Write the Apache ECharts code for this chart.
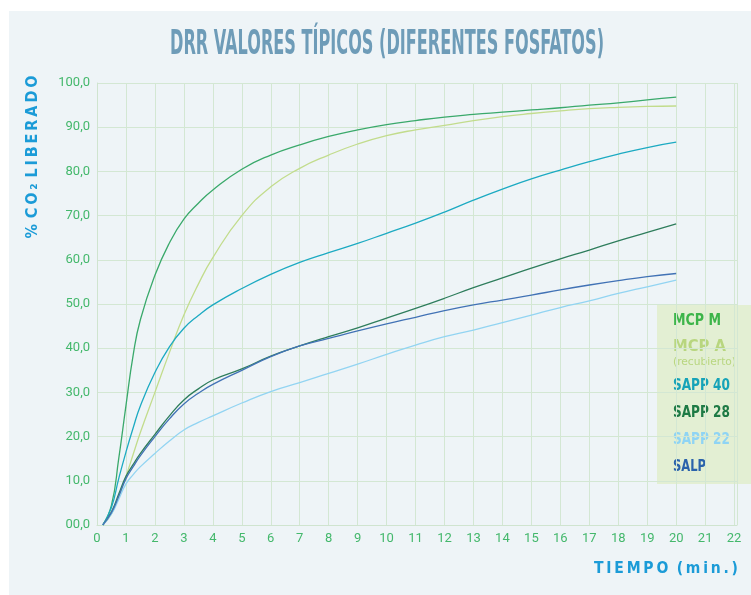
<!DOCTYPE html>
<html>
<head>
<meta charset="utf-8">
<script src="https://cdn.jsdelivr.net/npm/echarts@6/dist/echarts.min.js"></script>
<style>
  html, body { margin: 0; padding: 0; background: #fff; }
  #chart { width: 751px; height: 595px; }
</style>
</head>
<body>
<div id="chart"></div>
<script>
  // tiempo (min.) comun para todas las curvas
  var tiempo = [0.2, 0.5, 0.75, 1, 1.25, 1.5, 2, 2.5, 3, 3.5, 4, 5, 6, 7, 8, 9, 10, 11, 12, 13, 14, 15, 16, 17, 18, 19, 20];

  // % CO2 liberado
  var mcpM   = [0, 4.5, 15, 27, 38.5, 46.5, 56.5, 63.8, 69.2, 72.8, 75.8, 80.5, 83.7, 86, 87.9, 89.4, 90.6, 91.5, 92.3, 92.9, 93.4, 93.9, 94.4, 95, 95.5, 96.2, 96.8];
  var mcpA   = [0, 2.5, 6.5, 11, 16, 21, 30, 39, 47.5, 54.5, 60.5, 70, 76.5, 80.7, 83.7, 86.2, 88.1, 89.4, 90.4, 91.5, 92.4, 93.1, 93.7, 94.2, 94.5, 94.7, 94.8];
  var sapp40 = [0, 4, 10.5, 16.5, 22, 27, 34.5, 40.3, 44.5, 47.4, 49.8, 53.5, 56.7, 59.4, 61.6, 63.7, 66, 68.3, 70.8, 73.5, 76, 78.3, 80.3, 82.2, 83.9, 85.4, 86.6];
  var sapp28 = [0, 3, 7, 11, 13.7, 16.2, 20.5, 24.7, 28.3, 30.8, 32.8, 35.3, 38.2, 40.5, 42.6, 44.6, 46.8, 49, 51.3, 53.7, 55.9, 58.1, 60.2, 62.2, 64.3, 66.2, 68.1];
  var sapp22 = [0, 2.5, 5.8, 9.3, 11.4, 13.2, 16.2, 19, 21.5, 23.2, 24.7, 27.6, 30.2, 32.2, 34.3, 36.4, 38.6, 40.7, 42.6, 44.1, 45.8, 47.5, 49.2, 50.7, 52.4, 53.9, 55.4];
  var salp   = [0, 2.8, 6.5, 10.5, 13.2, 15.7, 20, 24, 27.4, 29.8, 31.8, 35, 38.1, 40.5, 42.2, 43.9, 45.5, 47, 48.5, 49.8, 50.9, 52, 53.2, 54.3, 55.3, 56.2, 56.9];

  var nombres = ['MCP M', 'MCP A', 'SAPP 40', 'SAPP 28', 'SAPP 22', 'SALP'];
  var valores = [mcpM, mcpA, sapp40, sapp28, sapp22, salp];
  var coloresLinea = ['#3aa96b', '#c2dc8c', '#1caac2', '#2e7d5c', '#92d4f2', '#4172b5'];
  var coloresTexto = ['#3db54a', '#b8d67f', '#16a3b8', '#1e7a45', '#8fd4f4', '#2b63ab'];

  var narrow = '"Liberation Sans Narrow", "DejaVu Sans Condensed", sans-serif';

  // ajusta el ancho del texto con scaleX
  var ctx = document.createElement('canvas').getContext('2d');
  function escala(texto, font, ancho) {
    ctx.font = font;
    return ancho / ctx.measureText(texto).width;
  }

  var fTitulo = 'bold 33px ' + narrow;
  var titulo = 'DRR VALORES TÍPICOS (DIFERENTES FOSFATOS)';
  var fEje = 'bold 16px "DejaVu Sans", sans-serif';
  var nombreY = '%\u2009\u2009C\u2009O\u2009₂\u2009\u2009L\u2009I\u2009B\u2009E\u2009R\u2009A\u2009D\u2009O';
  var nombreX = 'T\u2009I\u2009E\u2009M\u2009P\u2009O\u2009\u2009\u2009(\u2009m\u2009i\u2009n\u2009.\u2009)';

  var series = nombres.map(function (n, i) {
    return {
      name: n,
      type: 'line',
      smooth: 0.5,
      symbol: 'none',
      lineStyle: { color: coloresLinea[i], width: 1.3 },
      itemStyle: { color: coloresLinea[i] },
      data: tiempo.map(function (t, j) { return [t, valores[i][j]]; })
    };
  });

  // leyenda a la derecha
  var leyenda = [{
    type: 'rect',
    shape: { x: 657, y: 305, width: 94, height: 179 },
    style: { fill: '#e3efd3' }
  }];
  var posY = [321, 347, 386, 413, 440, 467];
  var anchos = [48, 53, 57, 57, 57, 33];
  var fLey = 'bold 15px ' + narrow;
  nombres.forEach(function (n, i) {
    leyenda.push({
      type: 'text', x: 673, y: posY[i],
      scaleX: escala(n, fLey, anchos[i]),
      style: { text: n, font: fLey, fill: coloresTexto[i], verticalAlign: 'middle' }
    });
  });
  var fRec = '11px ' + narrow;
  leyenda.push({
    type: 'text', x: 673, y: 362,
    scaleX: escala('(recubierto)', fRec, 63),
    style: { text: '(recubierto)', font: fRec, fill: coloresTexto[1], verticalAlign: 'middle' }
  });

  var myChart = echarts.init(document.getElementById('chart'));
  myChart.setOption({
    animation: false,
    backgroundColor: '#ffffff',
    grid: { left: 97, right: 14, top: 83, bottom: 70 },
    xAxis: {
      type: 'value',
      min: 0, max: 22.1, interval: 1,
      axisLine: { lineStyle: { color: '#cfe4cf' } },
      axisTick: { show: false },
      splitLine: { lineStyle: { color: '#d3e7d3', width: 1 } },
      axisLabel: {
        color: '#44b86c', fontSize: 13, margin: 7, fontFamily: 'Roboto, sans-serif',
        formatter: function (v) { return Number.isInteger(v) ? String(v) : ''; }
      }
    },
    yAxis: {
      type: 'value',
      min: 0, max: 100, interval: 10,
      axisLine: { show: true, lineStyle: { color: '#cfe4cf' } },
      axisTick: { show: false },
      splitLine: { lineStyle: { color: '#d3e7d3', width: 1 } },
      axisLabel: {
        color: '#44b86c', fontSize: 13, margin: 7, fontFamily: 'Roboto, sans-serif',
        formatter: function (v) { return (v < 10 ? '0' + v : v) + ',0'; }
      }
    },
    graphic: [
      {
        type: 'rect', z: -10, silent: true,
        shape: { x: 9, y: 11, width: 742, height: 584 },
        style: { fill: '#eef4f7' }
      },
      {
        type: 'text', x: 387, y: 45,
        scaleX: escala(titulo, fTitulo, 434),
        style: { text: titulo, font: fTitulo, fill: '#6e9cb8', align: 'center', verticalAlign: 'middle' }
      },
      {
        type: 'text', x: 33, y: 157, rotation: Math.PI / 2,
        scaleX: escala(nombreY, fEje, 163),
        style: { text: nombreY, font: fEje, fill: '#1b9bd7', align: 'center', verticalAlign: 'middle' }
      },
      {
        type: 'text', x: 738, y: 569,
        scaleX: escala(nombreX, fEje, 144),
        style: { text: nombreX, font: fEje, fill: '#1b9bd7', align: 'right', verticalAlign: 'middle' }
      }
    ].concat(leyenda),
    series: series
  });
  window.onresize = function () { myChart.resize(); };
</script>
</body>
</html>
